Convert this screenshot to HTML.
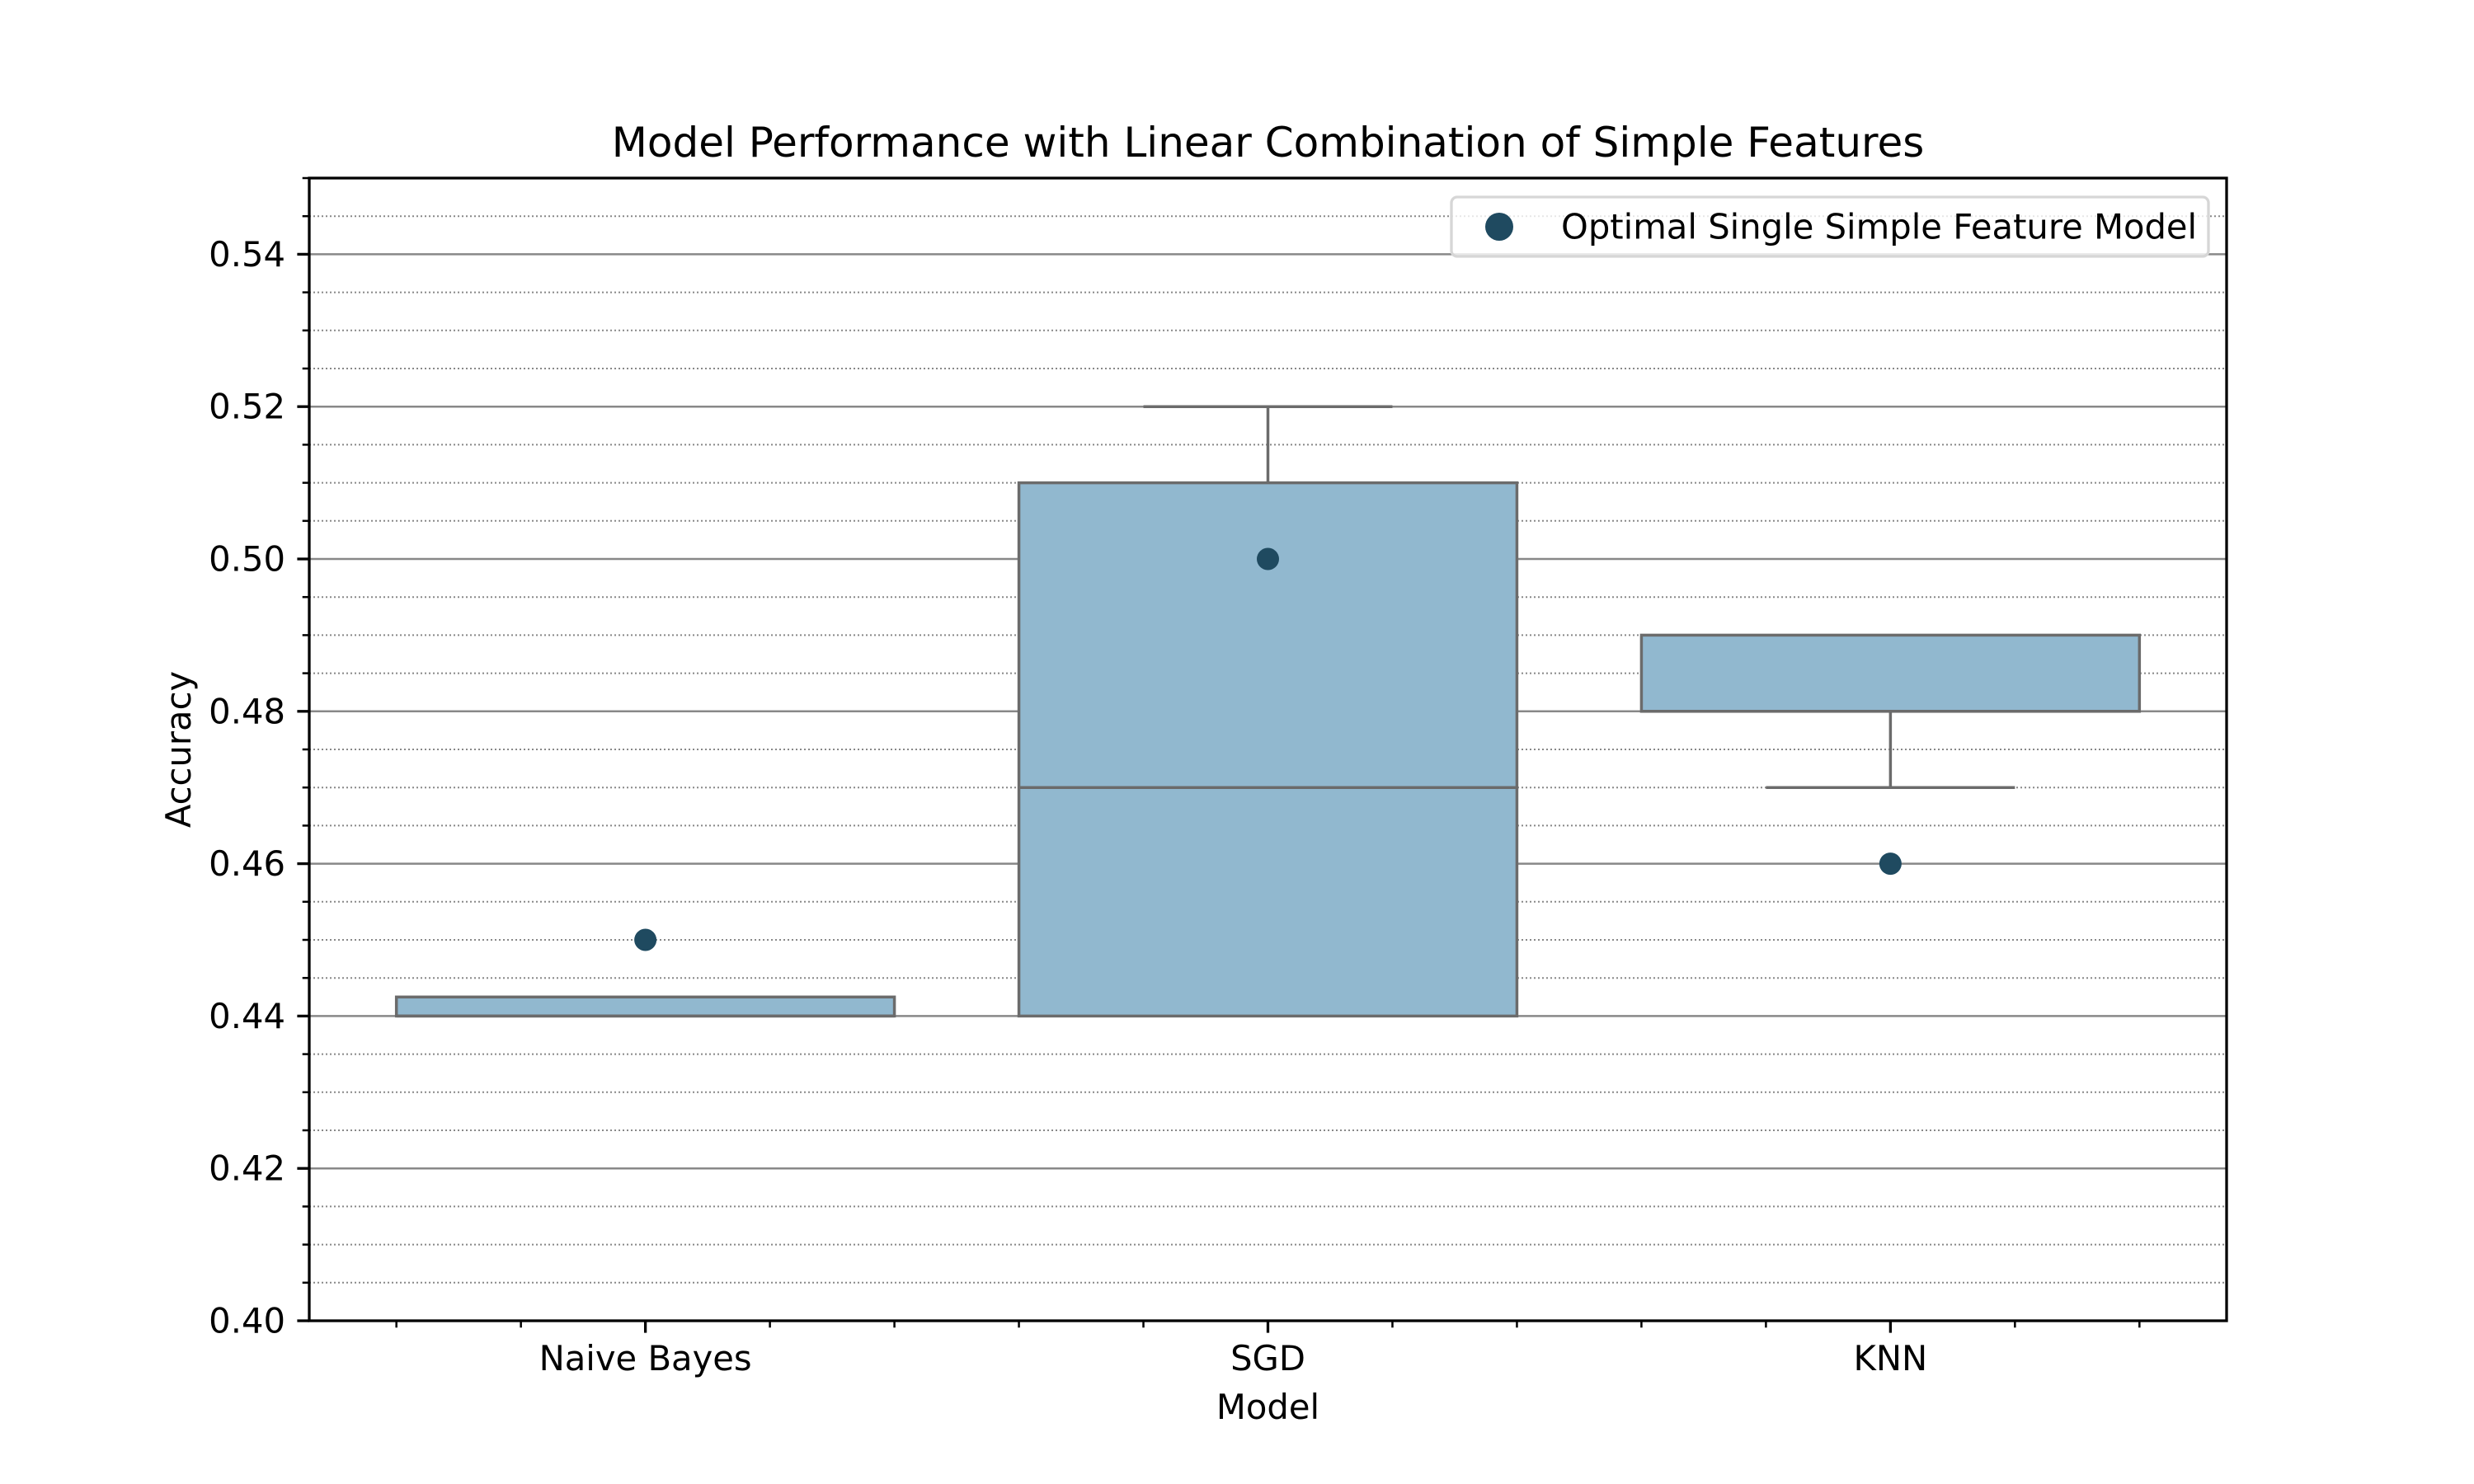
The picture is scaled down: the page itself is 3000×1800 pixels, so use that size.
<!DOCTYPE html>
<html><head><meta charset="utf-8"><style>
html,body{margin:0;padding:0;background:#fff}
svg{display:block}
text{font-family:"DejaVu Sans","Liberation Sans",sans-serif;fill:#000}
</style></head><body>
<svg id="chart" width="3000" height="1800" viewBox="0 0 3000 1800" xmlns="http://www.w3.org/2000/svg">
<rect width="3000" height="1800" fill="#fff"/>
<g id="grid"></g>
<g id="boxes"></g>
<g id="points"></g>
<g id="axes"></g>
</svg>
<script>
const categories = ["Naive Bayes", "SGD", "KNN"];
const q1Values = [0.44, 0.44, 0.48];
const medianValues = [0.44, 0.47, 0.48];
const q3Values = [0.4425, 0.51, 0.49];
const whiskerLow = [0.44, 0.44, 0.47];
const whiskerHigh = [0.4425, 0.52, 0.49];
const optimalPoints = [0.45, 0.50, 0.46];
const yTickLabels = ["0.40","0.42","0.44","0.46","0.48","0.50","0.52","0.54"];

const NS = "http://www.w3.org/2000/svg";
const L = 375, R = 2700, T = 216, B = 1602;
const yMin = 0.40, yMax = 0.55, xMin = -0.54, xMax = 2.54;
function y(v){ return B - (v - yMin) / (yMax - yMin) * (B - T); }
function x(v){ return L + (v - xMin) / (xMax - xMin) * (R - L); }
function mk(tag, attrs, parent){
  const e = document.createElementNS(NS, tag);
  for (const k in attrs) e.setAttribute(k, attrs[k]);
  parent.appendChild(e); return e;
}
const grid = document.getElementById('grid');
const boxes = document.getElementById('boxes');
const pts = document.getElementById('points');
const axes = document.getElementById('axes');

// minor grid
for (let i = 0; i <= 30; i++) {
  const v = yMin + i * 0.005;
  const major = i % 4 === 0;
  const yy = y(v);
  if (!major) {
    const g = mk('line', {x1:L, x2:R, y1:yy, y2:yy, stroke:'#888', 'stroke-width':2, 'stroke-dasharray':'2,3'}, grid);
    
    
  }
  const t = mk('line', {x1:L - (major ? 14.6 : 8.3), x2:L, y1:yy, y2:yy, stroke:'#000', 'stroke-width': major ? 3.3 : 2.5}, axes);
  
  
}
yTickLabels.forEach(function(lab){
  const v = parseFloat(lab);
  const yy = y(v);
  const g = mk('line', {x1:L, x2:R, y1:yy, y2:yy, stroke:'#888', 'stroke-width':2.5}, grid);
  
  
  const tx = mk('text', {x:L - 29, y:yy + 14.5, 'font-size':41.7, 'text-anchor':'end'}, axes);
  tx.textContent = lab;
  
  
});

const edge = '#6b6b6b', fill = '#91b8cf';
categories.forEach(function(c, i){
  const hw = 0.4, cw = 0.2;
  const g = mk('g', {}, boxes);
  
  
  // whiskers
  if (whiskerHigh[i] > q3Values[i]) {
    mk('line', {x1:x(i), x2:x(i), y1:y(q3Values[i]), y2:y(whiskerHigh[i]), stroke:edge, 'stroke-width':3.5}, g);
    mk('line', {x1:x(i-cw), x2:x(i+cw), y1:y(whiskerHigh[i]), y2:y(whiskerHigh[i]), stroke:edge, 'stroke-width':3.5}, g);
  }
  if (whiskerLow[i] < q1Values[i]) {
    mk('line', {x1:x(i), x2:x(i), y1:y(q1Values[i]), y2:y(whiskerLow[i]), stroke:edge, 'stroke-width':3.5}, g);
    mk('line', {x1:x(i-cw), x2:x(i+cw), y1:y(whiskerLow[i]), y2:y(whiskerLow[i]), stroke:edge, 'stroke-width':3.5}, g);
  }
  mk('rect', {x:x(i-hw), y:y(q3Values[i]), width:x(i+hw)-x(i-hw), height:y(q1Values[i])-y(q3Values[i]), fill:fill, stroke:edge, 'stroke-width':3.5}, g);
  mk('line', {x1:x(i-hw), x2:x(i+hw), y1:y(medianValues[i]), y2:y(medianValues[i]), stroke:edge, 'stroke-width':3.5}, g);
  const p = mk('circle', {cx:x(i), cy:y(optimalPoints[i]), r:13.5, fill:'#1f4a60'}, pts);
  
  
  // x ticks
  [-0.4,-0.2,0,0.2,0.4].forEach(function(o){
    const major = o === 0;
    const t = mk('line', {x1:x(i+o), x2:x(i+o), y1:B, y2:B + (major ? 14.6 : 8.3), stroke:'#000', 'stroke-width': major ? 3.3 : 2.5}, axes);
    
    
  });
  const tx = mk('text', {x:x(i), y:1662, 'font-size':41.7, 'text-anchor':'middle'}, axes);
  tx.textContent = c;
  
  
});
const frame = mk('rect', {x:L, y:T, width:R-L, height:B-T, fill:'none', stroke:'#000', 'stroke-width':3.3}, axes);



const title = mk('text', {x:(L+R)/2, y:190, 'font-size':50, 'text-anchor':'middle'}, axes);
title.textContent = 'Model Performance with Linear Combination of Simple Features';


const xt = mk('text', {x:(L+R)/2, y:1721, 'font-size':41.7, 'text-anchor':'middle'}, axes);
xt.textContent = 'Model';


const yt = mk('text', {x:0, y:0, 'font-size':41.7, 'text-anchor':'middle', transform:'translate(231,'+((T+B)/2)+') rotate(-90)'}, axes);
yt.textContent = 'Accuracy';



const lg = mk('g', {}, axes);


mk('rect', {x:1760, y:239, width:918, height:72, rx:7, fill:'#fff', 'fill-opacity':0.8, stroke:'#d6d6d6', 'stroke-width':3.3}, lg);
const lm = mk('circle', {cx:1818, cy:275, r:17, fill:'#1f4a60'}, lg);


const lt = mk('text', {x:1893, y:289.5, 'font-size':41.7}, lg);
lt.textContent = 'Optimal Single Simple Feature Model';


</script>
</body></html>
